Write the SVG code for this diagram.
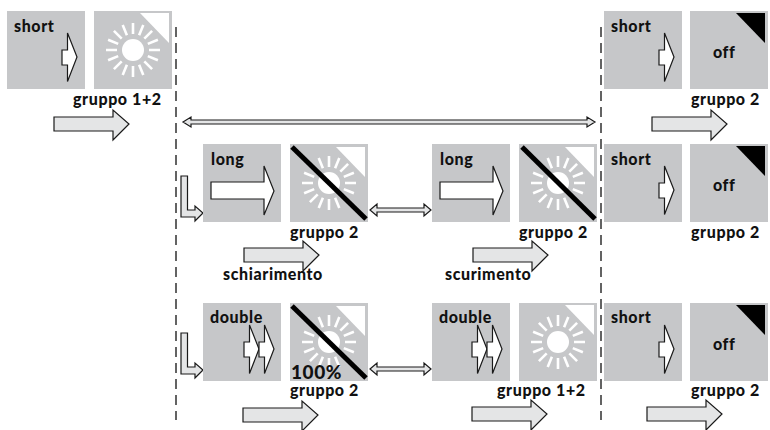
<svg xmlns="http://www.w3.org/2000/svg" xmlns:xlink="http://www.w3.org/1999/xlink" width="770" height="430" viewBox="0 0 770 430">
<style>
.box{fill:#c6c7c9}
.t{font-family:Lato,"Liberation Sans",sans-serif;font-weight:900;font-size:16px;fill:#111;letter-spacing:.6px}
.w{fill:#fff;stroke:#1a1a1a;stroke-width:1.2}
.g{fill:#e4e5e6;stroke:#1a1a1a;stroke-width:1.2}
.dash{fill:none;stroke:#222;stroke-width:1.4;stroke-dasharray:10 6}
.bar{stroke:#000;stroke-width:5;fill:none}
.ray{stroke:#fff;stroke-width:2.6;fill:none}
</style>
<defs>
<g id="sun">
<circle r="11" fill="#fff"/>
<g class="ray">
<path id="r4" d="M0-16V-27M0 16V27M-16 0H-27M16 0H27"/>
<path d="M6.1-14.8L10.3-24.9M-6.1-14.8L-10.3-24.9M6.1 14.8L10.3 24.9M-6.1 14.8L-10.3 24.9"/>
<path d="M14.8-6.1L24.9-10.3M-14.8-6.1L-24.9-10.3M14.8 6.1L24.9 10.3M-14.8 6.1L-24.9 10.3"/>
<path d="M11.3-11.3L19.1-19.1M-11.3-11.3L-19.1-19.1M11.3 11.3L19.1 19.1M-11.3 11.3L-19.1 19.1"/>
</g>
</g>
<polygon id="tri" points="0,0 29,0 29,30"/>
<polygon id="sa" class="w" points="0,17 5.5,17 5.5,0 15,24 5.5,48.500 5.500,32 0,32"/>
<polygon id="la" class="w" points="0,16 53,16 53,0 63,25 53,49 53,33 0,33"/>
<polygon id="ga" class="g" points="0,7 59,7 59,0 75,14 59,30 59,21 0,21"/>
<polygon id="la2" class="g" points="0,0 6.500,0 6.500,34 14,34 14,30 22,37 14,45 14,41 0,41"/>
<polygon id="da" class="g" points="0,7 7,1 7,5 54,5 54,1 61,7 54,13 54,9 7,9 7,13"/>
</defs>

<g id="connectors">
<path class="dash" d="M176 27V420"/>
<path class="dash" d="M601 27V420"/>
<polygon id="wide" class="g" points="183,122 191,117 191,120 587,120 587,117 595,122 587,127 587,124 191,124 191,127"/>
<use href="#da" x="370" y="203"/>
<use href="#da" x="370" y="362"/>
<use href="#la2" x="181" y="176"/>
<use href="#la2" x="181" y="333"/>
<use href="#ga" x="54" y="110"/>
<use href="#ga" x="652" y="110"/>
<use href="#ga" x="244" y="241"/>
<use href="#ga" x="473" y="241"/>
<use href="#ga" x="243" y="401"/>
<use href="#ga" x="472" y="400"/>
<use href="#ga" x="647" y="400"/>
</g>

<g id="n1"><rect class="box" x="7" y="11" width="78" height="78"/><text class="t" x="14" y="32">short</text><use href="#sa" x="62" y="33"/></g>
<g id="n2"><rect class="box" x="94" y="11" width="78" height="78"/><use href="#tri" x="140" y="13" fill="#fff"/><use href="#sun" x="133" y="50"/><text class="t" x="73" y="105">gruppo 1+2</text></g>
<g id="n3"><rect class="box" x="604" y="11" width="78" height="78"/><text class="t" x="611" y="32">short</text><use href="#sa" x="659" y="33"/></g>
<g id="n4"><rect class="box" x="690" y="11" width="78" height="78"/><use href="#tri" x="736" y="13" fill="#000"/><text class="t" x="713" y="58">off</text><text class="t" x="691" y="105">gruppo 2</text></g>

<g id="n5"><rect class="box" x="203" y="144" width="78" height="78"/><text class="t" x="211" y="165">long</text><use href="#la" x="211" y="166"/></g>
<g id="n6"><rect class="box" x="290" y="144" width="78" height="78"/><use href="#tri" x="336" y="147" fill="#fff"/><use href="#sun" x="329" y="183"/><path class="bar" d="M292 147L366 219"/><text class="t" x="290" y="238">gruppo 2</text><text class="t" x="223" y="280">schiarimento</text></g>
<g id="n7"><rect class="box" x="432" y="144" width="78" height="78"/><text class="t" x="440" y="165">long</text><use href="#la" x="440" y="166"/></g>
<g id="n8"><rect class="box" x="519" y="144" width="78" height="78"/><use href="#tri" x="565" y="147" fill="#fff"/><use href="#sun" x="558" y="183"/><path class="bar" d="M522 147L595 219"/><text class="t" x="519" y="238">gruppo 2</text><text class="t" x="445" y="280">scurimento</text></g>
<g id="n9"><rect class="box" x="604" y="144" width="78" height="78"/><text class="t" x="611" y="165">short</text><use href="#sa" x="659" y="166"/></g>
<g id="n10"><rect class="box" x="690" y="144" width="78" height="78"/><use href="#tri" x="736" y="146" fill="#000"/><text class="t" x="713" y="191">off</text><text class="t" x="691" y="238">gruppo 2</text></g>

<g id="n11"><rect class="box" x="203" y="303" width="78" height="78"/><text class="t" x="210" y="323">double</text><use href="#sa" x="244" y="325"/><use href="#sa" x="259" y="325"/></g>
<g id="n12"><rect class="box" x="290" y="303" width="78" height="78"/><use href="#tri" x="336" y="306" fill="#fff"/><use href="#sun" x="329" y="342"/><path class="bar" d="M292 306L366 378"/><text x="291" y="379" class="t" style="font-size:19px">100%</text><text class="t" x="290" y="396">gruppo 2</text></g>
<g id="n13"><rect class="box" x="432" y="303" width="78" height="78"/><text class="t" x="439" y="323">double</text><use href="#sa" x="472" y="325"/><use href="#sa" x="487" y="325"/></g>
<g id="n14"><rect class="box" x="519" y="303" width="78" height="78"/><use href="#tri" x="565" y="305" fill="#fff"/><use href="#sun" x="558" y="342"/><text class="t" x="497" y="396">gruppo 1+2</text></g>
<g id="n15"><rect class="box" x="604" y="303" width="78" height="78"/><text class="t" x="611" y="323">short</text><use href="#sa" x="659" y="325"/></g>
<g id="n16"><rect class="box" x="690" y="303" width="78" height="78"/><use href="#tri" x="736" y="305" fill="#000"/><text class="t" x="713" y="350">off</text><text class="t" x="691" y="396">gruppo 2</text></g>
</svg>
